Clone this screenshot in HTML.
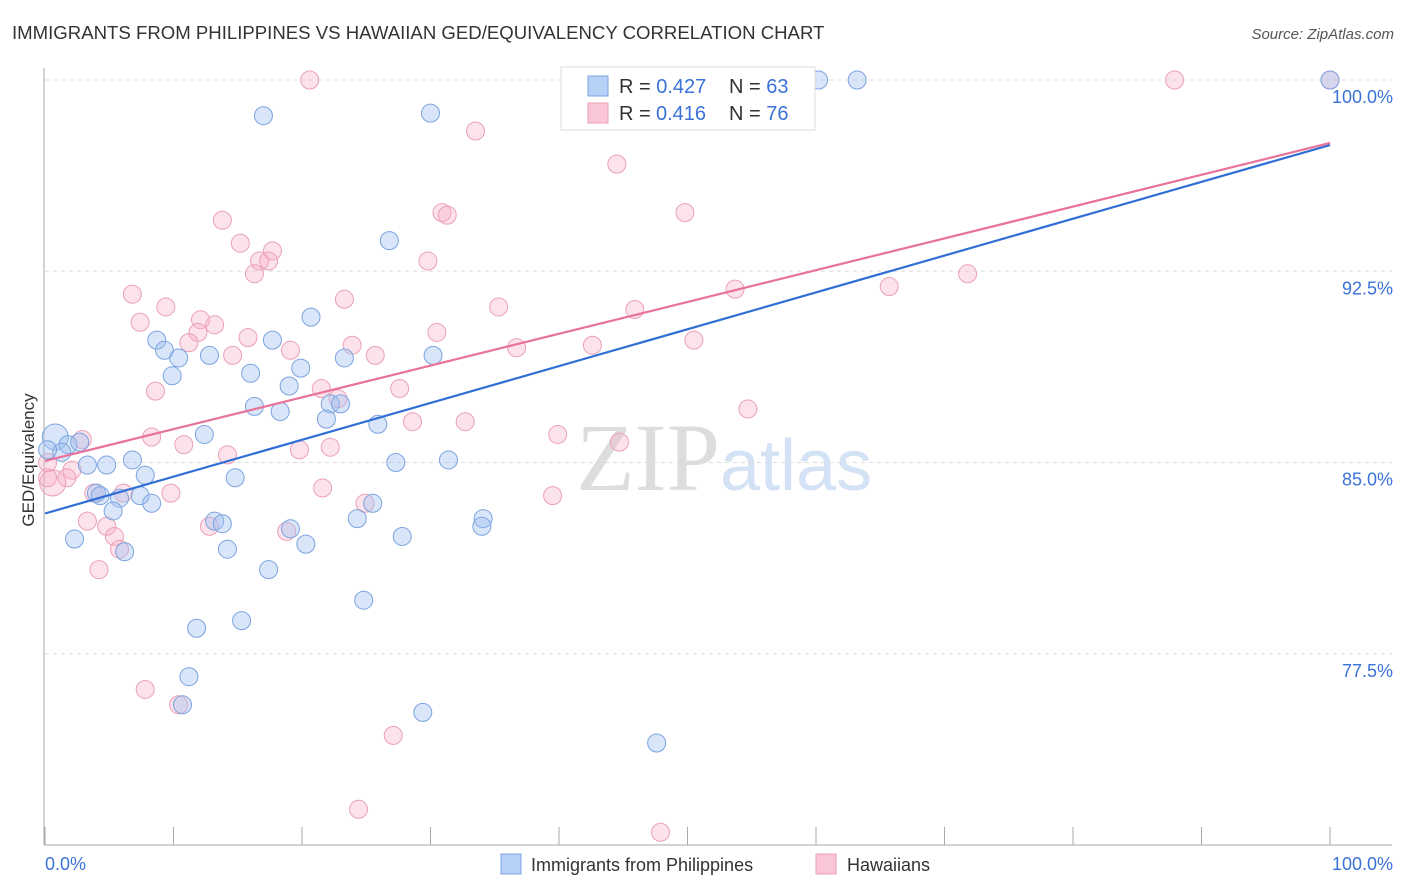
<!DOCTYPE html>
<html><head><meta charset="utf-8"><style>
body{margin:0;background:#fff;font-family:"Liberation Sans",sans-serif;}
#wrap{position:relative;width:1406px;height:892px;overflow:hidden;}
</style></head><body>
<div id="wrap">
<svg id="svg" width="1406" height="892" style="position:absolute;left:0;top:0">
<text x="12" y="39" font-size="18.6" fill="#333">IMMIGRANTS FROM PHILIPPINES VS HAWAIIAN GED/EQUIVALENCY CORRELATION CHART</text>
<text x="1394" y="39" font-size="15" fill="#555" font-style="italic" text-anchor="end">Source: ZipAtlas.com</text>
<text x="34" y="460" font-size="17" fill="#333" text-anchor="middle" transform="rotate(-90 34 460)">GED/Equivalency</text>
<text x="720" y="490" font-size="96" fill="#ddd" font-family="Liberation Serif,serif" text-anchor="end">ZIP</text>
<text x="720" y="490" font-size="72" fill="#d4e2f6">atlas</text>
<g id="grid"></g><g id="axes"></g><g id="pts"></g><g id="trend"></g>
<g>
<rect x="561" y="67" width="254" height="63" fill="#fff" stroke="#ddd"/>
<rect x="588" y="76" width="20" height="20" fill="#b7d0f5" stroke="#7ba3e0"/>
<text x="619" y="93" font-size="20" fill="#333">R = <tspan fill="#3a72d8">0.427</tspan><tspan x="729">N = </tspan><tspan fill="#3a72d8">63</tspan></text>
<rect x="588" y="103" width="20" height="20" fill="#f9c6d6" stroke="#eba0b8"/>
<text x="619" y="120" font-size="20" fill="#333">R = <tspan x="656" fill="#3a72d8">0.416</tspan><tspan x="729">N = </tspan><tspan fill="#3a72d8">76</tspan></text>
</g>
<g>
<rect x="501" y="854" width="20" height="20" fill="#b7d0f5" stroke="#7ba3e0"/>
<text x="531" y="871" font-size="18" fill="#333">Immigrants from Philippines</text>
<rect x="816" y="854" width="20" height="20" fill="#f9c6d6" stroke="#eba0b8"/>
<text x="847" y="871" font-size="18" fill="#333">Hawaiians</text>
</g>
</svg>
</div>
<script>
const yTicks=[100,92.5,85,77.5];
const yTickLabels=["100.0%","92.5%","85.0%","77.5%"];
const xTickLabels=["0.0%","100.0%"];
const blueX=[0.8,1.8,2.7,1.3,3.3,4.8,6.8,7.8,4.0,4.3,5.8,7.4,8.3,5.3,2.3,6.2,8.7,9.3,10.4,9.9,12.8,17.0,16.0,17.7,20.7,19.0,19.9,16.3,18.3,22.2,23.0,23.3,21.9,25.9,26.8,30.2,30.0,31.4,27.3,12.4,14.8,13.2,13.8,14.2,19.1,20.3,17.4,24.3,25.5,27.8,24.8,15.3,11.8,11.2,10.7,29.4,34.1,34.0,47.6,60.2,63.2,100,0.2];
const blueY=[86.0,85.7,85.8,85.4,84.9,84.9,85.1,84.5,83.8,83.7,83.6,83.7,83.4,83.1,82.0,81.5,89.8,89.4,89.1,88.4,89.2,98.6,88.5,89.8,90.7,88.0,88.7,87.2,87.0,87.3,87.3,89.1,86.7,86.5,93.7,89.2,98.7,85.1,85.0,86.1,84.4,82.7,82.6,81.6,82.4,81.8,80.8,82.8,83.4,82.1,79.6,78.8,78.5,76.6,75.5,75.2,82.8,82.5,74.0,100,100,100,85.5];
const pinkX=[20.6,87.9,100,33.5,44.5,49.8,30.9,31.3,13.8,15.2,17.7,16.7,17.4,16.3,29.8,71.8,65.7,53.7,6.8,9.4,35.3,45.9,23.3,7.4,12.1,13.2,30.5,11.9,11.2,15.8,19.1,23.9,14.6,25.7,36.7,42.6,50.5,8.6,21.5,27.6,22.8,54.7,28.6,32.7,8.3,2.9,10.8,19.8,22.2,39.9,44.7,14.2,2.1,1.7,0.6,0.2,6.1,9.8,21.6,39.5,3.8,3.3,4.8,5.4,12.8,18.8,24.9,5.8,4.2,7.8,10.4,27.1,24.4,47.9,0.2];
const pinkY=[100,100,100,98.0,96.7,94.8,94.8,94.7,94.5,93.6,93.3,92.9,92.9,92.4,92.9,92.4,91.9,91.8,91.6,91.1,91.1,91.0,91.4,90.5,90.6,90.4,90.1,90.1,89.7,89.9,89.4,89.6,89.2,89.2,89.5,89.6,89.8,87.8,87.9,87.9,87.5,87.1,86.6,86.6,86.0,85.9,85.7,85.5,85.6,86.1,85.8,85.3,84.7,84.4,84.2,84.4,83.8,83.8,84.0,83.7,83.8,82.7,82.5,82.1,82.5,82.3,83.4,81.6,80.8,76.1,75.5,74.3,71.4,70.5,85.0];
const blueTrend=[83.0,97.45];
const pinkTrend=[85.06,97.53];
const NS="http://www.w3.org/2000/svg";
const xs=v=>45+v*12.85, ys=v=>80+(100-v)*25.5;
function mk(tag,attrs,parent){const e=document.createElementNS(NS,tag);for(const k in attrs)e.setAttribute(k,attrs[k]);document.getElementById(parent).appendChild(e);return e;}
yTicks.forEach((t,i)=>{
 const l=mk('line',{x1:45,x2:1392,y1:ys(t),y2:ys(t),stroke:'#ddd','stroke-dasharray':'4,4'},'grid');
 
 
 const tx=mk('text',{x:1393,y:ys(t)+23,'font-size':18,fill:'#3a72d8','text-anchor':'end'},'grid');
 tx.textContent=yTickLabels[i];
 
 
});
let a=mk('line',{x1:44,x2:44,y1:68,y2:845,stroke:'#aaa'},'axes');


a=mk('line',{x1:44,x2:1392,y1:845,y2:845,stroke:'#aaa'},'axes');


for(let i=0;i<=10;i++){const t=mk('line',{x1:xs(i*10),x2:xs(i*10),y1:827,y2:845,stroke:'#aaa'},'axes');
 
 }
[[0,'start'],[100,'end']].forEach((p,i)=>{const t=mk('text',{x:xs(p[0])+(i?63:0),y:870,'font-size':18,fill:'#3a72d8','text-anchor':p[1]},'axes');t.textContent=xTickLabels[i];
 
 });
function dots(X,Y,fill,stroke,name){X.forEach((x,i)=>{const big=(x<1&&(name==='philippines-point'?Y[i]===86.0:Y[i]===84.2));
 const c=mk('circle',{cx:xs(x),cy:ys(Y[i]),r:big?13:9,fill:fill,stroke:stroke,'stroke-width':1},'pts');
 
 });}
dots(pinkX,pinkY,'rgba(246,172,198,0.35)','#eba0b8','hawaiian-point');
dots(blueX,blueY,'rgba(160,192,240,0.4)','#7ba3e0','philippines-point');
let t1=mk('line',{x1:xs(0),y1:ys(blueTrend[0]),x2:xs(100),y2:ys(blueTrend[1]),stroke:'#2f6fd6','stroke-width':2.2},'trend');


let t2=mk('line',{x1:xs(0),y1:ys(pinkTrend[0]),x2:xs(100),y2:ys(pinkTrend[1]),stroke:'#e8729a','stroke-width':2.2},'trend');


</script>
</body></html>
